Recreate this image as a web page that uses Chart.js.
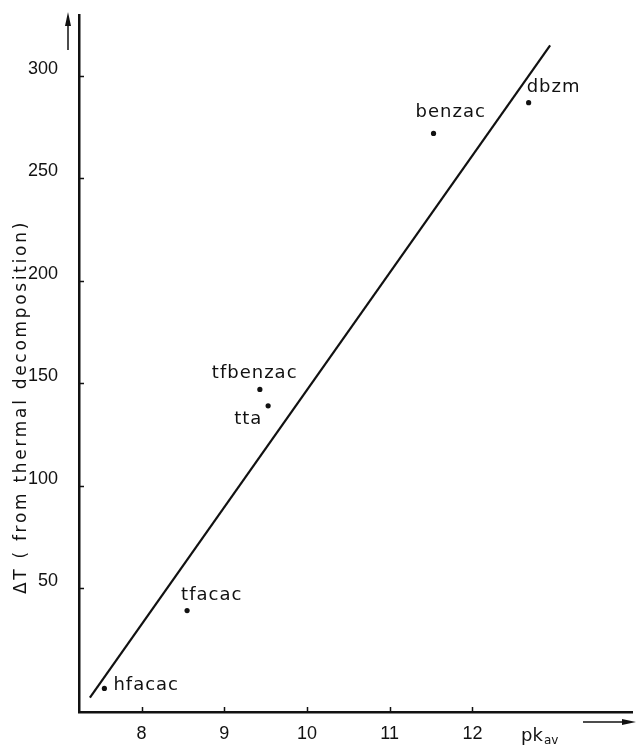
<!DOCTYPE html>
<html>
<head>
<meta charset="utf-8">
<script src="https://cdn.jsdelivr.net/npm/chart.js@4.4.1/dist/chart.umd.min.js"></script>
<style>
html, body { margin: 0; padding: 0; background: #fff; }
#wrap { width: 636px; height: 745px; position: relative; }
</style>
</head>
<body>
<div id="wrap"><canvas id="c"></canvas></div>
<script>
// beta-diketone ligands: average pK against ΔT from thermal decomposition
const ligands = ['hfacac', 'tfacac', 'tfbenzac', 'tta', 'benzac', 'dbzm'];
const pkAv    = [7.55, 8.55, 9.43, 9.53, 11.53, 12.68];
const deltaT  = [1, 39, 147, 139, 272, 287];

// end points of the straight line drawn through the data
const fitPk     = [7.375, 12.94];
const fitDeltaT = [-3.5, 315];

const xTicks = [8, 9, 10, 11, 12];
const yTicks = [50, 100, 150, 200, 250, 300];

const LABEL_FONT = 'DejaVu Sans';
const TICK_FONT = 'Liberation Sans';
const INK = '#111';

// where each ligand name sits relative to its dot (left edge, vertical middle)
const labelOffsets = {
  hfacac:   [9, -3],
  tfacac:   [-6, -15],
  tfbenzac: [-48, -16],
  tta:      [-34, 14],
  benzac:   [-18, -21],
  dbzm:     [-2, -15]
};

const decorations = {
  id: 'decorations',
  afterDraw(chart) {
    const ctx = chart.ctx;
    const xs = chart.scales.x, ys = chart.scales.y;
    const area = chart.chartArea;
    ctx.save();
    ctx.strokeStyle = INK;
    ctx.fillStyle = INK;

    // inward tick marks
    ctx.lineWidth = 1.5;
    ctx.beginPath();
    xTicks.forEach(v => {
      const px = Math.round(xs.getPixelForValue(v)) + 0.5;
      ctx.moveTo(px, area.bottom);
      ctx.lineTo(px, area.bottom - 5);
    });
    yTicks.forEach(v => {
      const py = Math.round(ys.getPixelForValue(v)) + 0.5;
      ctx.moveTo(area.left, py);
      ctx.lineTo(area.left + 5, py);
    });
    ctx.stroke();

    // ligand names next to their points
    ctx.font = '18px "' + LABEL_FONT + '"';
    ctx.letterSpacing = '1px';
    ctx.textAlign = 'left';
    ctx.textBaseline = 'middle';
    const meta = chart.getDatasetMeta(0);
    meta.data.forEach((pt, i) => {
      const off = labelOffsets[ligands[i]];
      ctx.fillText(ligands[i], pt.x + off[0], pt.y + off[1]);
    });
    ctx.letterSpacing = '0px';

    // x axis name with subscript and arrow
    ctx.font = '18px "' + LABEL_FONT + '"';
    ctx.fillText('pk', 521, area.bottom + 24);
    ctx.font = '12px "' + LABEL_FONT + '"';
    ctx.fillText('av', 544, area.bottom + 29);

    ctx.lineWidth = 1.5;
    ctx.beginPath();
    ctx.moveTo(583, area.bottom + 10);
    ctx.lineTo(626, area.bottom + 10);
    ctx.stroke();
    ctx.beginPath();
    ctx.moveTo(636, area.bottom + 10);
    ctx.lineTo(622, area.bottom + 7);
    ctx.lineTo(622, area.bottom + 13);
    ctx.closePath();
    ctx.fill();

    // y axis arrow
    ctx.beginPath();
    ctx.moveTo(68, 50);
    ctx.lineTo(68, 22);
    ctx.stroke();
    ctx.beginPath();
    ctx.moveTo(68, 12);
    ctx.lineTo(65, 26);
    ctx.lineTo(71, 26);
    ctx.closePath();
    ctx.fill();

    // y axis title, rotated
    ctx.save();
    ctx.translate(22, 407);
    ctx.rotate(-Math.PI / 2);
    ctx.font = '17px "' + LABEL_FONT + '"';
    ctx.letterSpacing = '2.7px';
    ctx.textAlign = 'center';
    ctx.textBaseline = 'middle';
    ctx.fillText('ΔT ( from thermal decomposition)', 0, 0);
    ctx.restore();

    ctx.restore();
  }
};

new Chart(document.getElementById('c'), {
  type: 'scatter',
  data: {
    datasets: [
      {
        label: 'ligands',
        data: pkAv.map((x, i) => ({ x: x, y: deltaT[i] })),
        pointRadius: 2.6,
        pointBackgroundColor: INK,
        pointBorderWidth: 0,
        showLine: false
      },
      {
        label: 'fit',
        data: fitPk.map((x, i) => ({ x: x, y: fitDeltaT[i] })),
        showLine: true,
        borderColor: INK,
        borderWidth: 2.2,
        pointRadius: 0,
        fill: false
      }
    ]
  },
  options: {
    responsive: true,
    maintainAspectRatio: false,
    devicePixelRatio: 1,
    animation: false,
    events: [],
    layout: { padding: { top: 15, right: 0, bottom: 0, left: 0 } },
    plugins: { legend: { display: false }, tooltip: { enabled: false } },
    scales: {
      x: {
        type: 'linear',
        min: 7.243,
        max: 13.93,
        afterBuildTicks: s => { s.ticks = xTicks.map(v => ({ value: v })); },
        afterFit: s => { s.height = 33; s.paddingLeft = 0; s.paddingRight = 0; },
        grid: { display: false, drawTicks: false },
        border: { display: true, color: INK, width: 2.5 },
        ticks: {
          color: INK,
          font: { family: TICK_FONT, size: 18 },
          padding: 11,
          maxRotation: 0,
          autoSkip: false
        }
      },
      y: {
        type: 'linear',
        min: -10.5,
        max: 329.8,
        afterBuildTicks: s => { s.ticks = yTicks.map(v => ({ value: v })); },
        afterFit: s => { s.width = 79; s.paddingTop = 0; s.paddingBottom = 0; },
        grid: { display: false, drawTicks: false },
        border: { display: true, color: INK, width: 2.5 },
        ticks: {
          color: INK,
          font: { family: TICK_FONT, size: 18 },
          padding: 21,
          labelOffset: -7,
          autoSkip: false
        }
      }
    }
  },
  plugins: [decorations]
});
</script>
</body>
</html>
